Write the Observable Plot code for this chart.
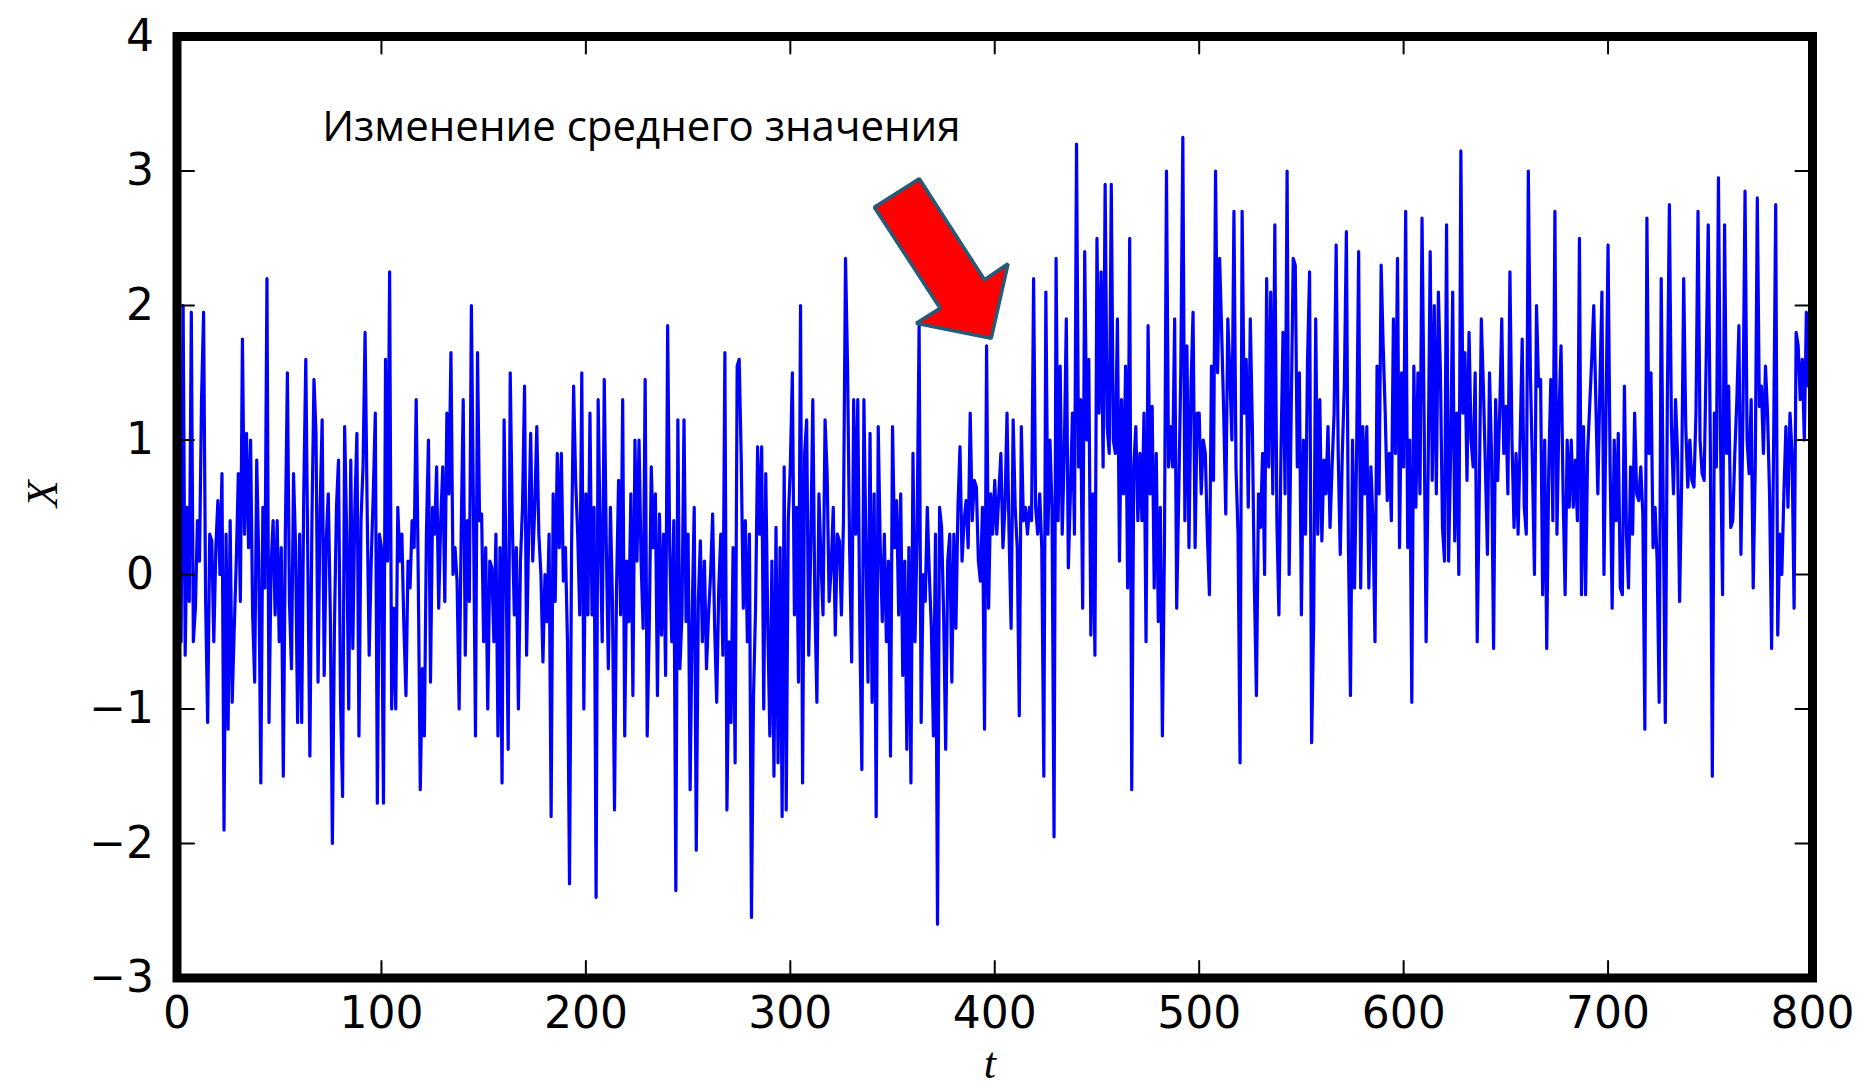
<!DOCTYPE html>
<html>
<head>
<meta charset="utf-8">
<script src="https://cdn.jsdelivr.net/npm/d3@7"></script>
<script src="https://cdn.jsdelivr.net/npm/@observablehq/plot@0.6"></script>
<style>
  html, body { margin: 0; padding: 0; background: #fff; }
  #chart svg { display: block; overflow: visible; }
</style>
</head>
<body>
<div id="chart"></div>
<script>
// Series X(t), t = 0..799
const xValues = [
-0.6,0.2,-0.5,2.0,-0.6,0.5,-0.2,1.95,-0.5,-0.25,
0.4,0.1,1.3,1.95,-0.2,-1.1,0.3,0.25,-0.5,0.2,
0.55,0.0,0.75,-1.9,0.3,-1.15,0.4,-0.95,-0.4,0.1,
0.75,-0.2,1.75,0.3,1.05,0.2,1.0,-0.3,-0.8,0.85,
0.1,-1.55,0.5,-0.1,2.2,-1.1,0.05,0.4,-0.3,0.4,
-0.5,0.2,-1.5,0.3,1.5,-0.2,-0.7,0.75,0.2,-1.1,
0.3,-1.1,0.6,1.6,0.1,-1.35,0.4,1.45,1.05,-0.8,
0.5,1.15,-0.75,0.25,0.6,-0.3,-2.0,-0.4,0.5,0.85,
-0.95,-1.65,1.1,0.3,-1.0,0.85,-0.55,0.5,1.05,-1.2,
0.4,0.8,1.8,0.5,-0.6,0.1,0.6,1.2,-1.7,0.3,
0.2,-1.7,1.6,0.1,2.25,-1.0,-0.25,-1.0,0.5,0.1,
0.3,-0.4,-0.9,0.1,-0.1,0.4,0.2,1.3,0.0,-1.6,
-0.7,-1.2,0.3,1.0,-0.8,0.5,0.3,0.8,-0.25,0.4,
0.8,-0.2,1.2,0.6,1.65,0.0,0.2,-0.05,-1.0,0.3,
1.3,-0.6,0.4,-0.2,2.0,0.5,-1.2,1.65,0.4,0.45,
-0.5,0.2,-1.0,0.1,0.05,-0.5,0.3,-1.2,0.2,-1.55,
1.15,0.0,-1.3,1.5,0.4,-0.3,0.2,-1.0,0.1,0.5,
1.4,-0.6,0.3,1.05,0.1,0.5,1.1,0.3,0.0,-0.65,
0.0,-0.35,0.3,-1.8,0.6,-0.2,0.9,0.2,0.9,-0.05,
0.2,-0.5,-2.3,0.2,1.4,0.7,0.3,-0.3,1.5,-1.0,
0.6,-0.3,1.2,-0.3,0.5,-2.4,1.3,0.3,-0.5,1.45,
0.2,-0.7,0.5,-0.2,-1.75,-0.1,0.7,-0.3,1.3,-1.2,
0.1,-0.35,0.6,-0.9,1.0,0.1,1.0,0.1,-0.4,1.45,
-1.2,-0.4,0.8,0.2,0.6,-0.9,0.45,-0.45,0.3,-0.75,
1.85,0.2,-0.5,0.4,-2.35,1.15,-0.7,-0.3,1.15,-0.35,
0.3,-1.6,-0.3,0.5,-2.05,-0.2,0.25,-0.5,0.1,-0.7,
-0.3,0.0,0.45,-0.4,-0.95,-0.1,0.3,-0.6,1.65,-1.75,
-0.5,-1.1,0.2,-1.4,1.55,1.6,0.85,-0.25,0.4,-0.5,
0.3,-2.55,-0.9,-0.25,0.95,0.3,0.95,-1.0,0.75,-0.4,
-1.2,0.1,-1.5,0.35,-1.4,0.2,-1.8,0.8,-1.75,0.4,
0.8,1.5,-0.3,0.5,-0.8,2.0,-1.55,0.9,1.15,-0.6,
0.2,1.3,-0.2,-0.95,0.6,0.1,-0.3,1.15,0.75,-0.2,
0.05,0.5,-0.45,0.3,0.25,-0.3,0.4,2.35,1.55,0.2,
-0.65,1.3,0.3,1.3,-0.4,-1.45,1.3,0.2,-0.8,1.05,
-0.95,0.6,-1.8,1.1,0.2,-0.35,0.3,-0.5,0.1,-1.35,
1.1,0.2,0.55,-0.3,0.6,-0.75,0.1,-1.3,0.2,-1.55,
0.9,-0.5,0.3,1.85,-1.1,0.0,-0.2,0.5,0.0,-0.4,
-1.2,0.3,-2.6,0.5,0.35,-0.3,-1.3,0.1,0.3,-0.8,
0.3,-0.4,0.5,0.95,0.1,0.4,0.55,0.2,1.2,0.4,
0.7,0.65,0.1,-0.05,0.5,-1.15,1.7,-0.25,0.6,0.3,
0.7,0.3,0.6,0.9,0.2,0.5,1.2,0.3,-0.4,1.15,
0.5,0.2,-1.05,1.1,0.4,0.5,0.3,0.5,0.4,2.2,
0.5,0.3,0.6,0.2,-1.5,2.1,0.3,1.0,0.5,-1.95,
2.35,0.4,1.55,0.3,0.9,1.9,0.05,0.6,1.2,0.3,
3.2,0.8,1.3,-0.25,2.4,1.0,1.6,-0.45,0.6,-0.6,
2.5,1.2,2.25,0.8,2.9,1.1,0.9,2.9,1.0,0.9,
1.9,0.1,1.3,0.6,1.55,-0.1,2.5,-1.6,0.8,1.1,
0.4,0.9,0.4,1.2,-0.5,1.85,0.6,1.25,-0.1,0.9,
-0.35,0.5,-1.2,0.2,3.0,0.8,1.1,0.8,1.9,-0.25,
0.6,1.5,3.25,0.4,1.7,0.2,1.4,1.95,0.2,1.2,
1.2,0.6,1.0,0.9,0.3,-0.15,1.55,0.7,3.0,1.5,
2.35,1.8,1.2,0.45,1.9,1.5,1.0,2.7,0.8,0.3,
-1.4,2.7,1.2,1.6,0.5,1.9,1.1,-0.1,-0.9,0.6,
0.35,0.9,0.0,2.2,0.8,2.1,0.6,2.6,0.4,-0.3,
0.9,1.8,0.6,3.0,0.0,1.2,2.35,2.3,0.8,1.5,
-0.3,1.0,0.3,1.6,2.25,-1.25,-0.35,1.9,0.3,1.3,
0.25,0.85,0.6,1.1,0.35,0.8,1.2,2.45,0.9,0.15,
0.9,1.4,2.55,0.2,-0.9,1.0,-0.1,0.9,2.4,-0.1,
1.1,0.6,1.1,-0.1,0.8,0.4,-0.5,1.55,0.6,2.3,
1.7,1.2,0.55,0.9,0.4,1.9,0.9,2.35,0.2,1.5,
0.8,2.7,0.2,1.0,-0.95,1.55,0.5,1.5,0.6,2.65,
1.2,-0.5,0.8,2.4,0.7,2.0,0.6,2.1,1.5,0.35,
0.1,2.6,0.1,0.9,2.1,0.25,1.2,0.0,3.15,1.2,
1.65,0.7,1.8,1.0,0.8,1.5,-0.5,0.6,1.9,1.4,
0.8,0.15,1.5,0.9,-0.55,1.3,0.7,1.2,1.9,0.9,
1.25,0.6,2.25,1.0,0.35,0.9,0.3,1.0,1.75,0.5,
0.3,3.0,1.5,0.8,0.0,2.0,1.4,1.45,-0.15,1.0,
-0.55,0.8,1.45,0.4,2.7,0.3,1.2,1.7,0.6,-0.15,
1.0,0.5,1.0,0.5,0.85,0.4,2.5,-0.15,1.1,-0.15,
0.9,1.25,1.6,2.0,1.3,0.6,1.4,2.1,0.0,1.2,
2.45,0.8,-0.25,1.0,0.4,1.05,-0.1,-0.15,1.4,0.3,
-0.1,0.8,0.3,1.2,0.6,0.55,0.8,0.45,-1.15,2.65,
0.9,1.5,0.2,0.5,0.1,-0.95,2.2,0.5,-1.1,1.3,
2.75,1.1,0.6,1.3,0.9,-0.2,0.7,2.2,1.1,0.65,
1.0,0.7,0.65,1.2,2.7,1.0,0.75,0.7,1.6,2.6,
1.0,-1.5,1.2,0.8,2.95,1.0,-0.15,2.6,0.9,1.4,
0.35,0.4,0.9,1.3,1.85,0.15,1.2,2.85,1.0,0.75,
1.3,-0.1,0.8,2.8,1.25,1.4,0.9,1.55,1.2,0.6,
-0.55,1.0,2.75,-0.45,0.3,0.0,0.6,1.1,0.5,1.2,
0.9,-0.25,1.8,1.7,1.3,1.6,1.0,1.95,1.4,1.9
];
const tValues = xValues.map((_, i) => i);

const xTicks = [0, 100, 200, 300, 400, 500, 600, 700, 800];
const yTicks = [-3, -2, -1, 0, 1, 2, 3, 4];
const xDomain = [0, 800];
const yDomain = [-3, 4];

const xLabel = "t";
const yLabel = "X";

// Annotation (in data coordinates)
const noteText = ["Изменение среднего значения"];
const noteT = [71];
const noteX = [3.32];

// Block arrow outline (in data coordinates, t and X)
const arrowT = [341.1, 363.1, 395.0, 406.5, 398.3, 361.6, 373.3];
const arrowX = [2.731, 2.942, 2.191, 2.310, 1.757, 1.868, 1.980];

const series = tValues.map((t, i) => ({t, x: xValues[i]}));
const arrow = arrowT.map((t, i) => ({t, x: arrowX[i]}));
const note = noteText.map((s, i) => ({s, t: noteT[i], x: noteX[i]}));

const fmt = d => d < 0 ? "\u2212" + Math.abs(d) : String(d);
const tickShape = { draw(context, l) { context.moveTo(0, 0); context.lineTo(0, -l); } };
const tickOpts = {length: 17, anchor: "start", shape: tickShape, stroke: "black", strokeWidth: 2, fill: "none"};

const chart = Plot.plot({
  width: 1864,
  height: 1088,
  marginLeft: 176.5,
  marginRight: 52,
  marginTop: 36,
  marginBottom: 110.5,
  style: {fontFamily: "'DejaVu Sans', sans-serif", fontSize: "44px", background: "white", color: "black"},
  x: {domain: xDomain},
  y: {domain: yDomain},
  marks: [
    Plot.line(series, {x: "t", y: "x", stroke: "#0000ff", strokeWidth: 3.2, strokeLinejoin: "round"}),
    Plot.frame({stroke: "black", strokeWidth: 9}),
    Plot.vector(xTicks, {x: d => d, y: yDomain[0], rotate: 0, ...tickOpts}),
    Plot.vector(xTicks, {x: d => d, y: yDomain[1], rotate: 180, ...tickOpts}),
    Plot.vector(yTicks, {y: d => d, x: xDomain[0], rotate: 90, ...tickOpts}),
    Plot.vector(yTicks, {y: d => d, x: xDomain[1], rotate: -90, ...tickOpts}),
    Plot.axisX({ticks: xTicks, tickSize: 0, tickPadding: 19, tickFormat: fmt, label: null, fontSize: 44}),
    Plot.axisY({ticks: yTicks, tickSize: 0, tickPadding: 23, tickFormat: fmt, label: null, fontSize: 44}),
    Plot.text([xLabel], {frameAnchor: "bottom", dy: 100, dx: -5, lineAnchor: "bottom", fontFamily: "'Liberation Serif', serif", fontStyle: "italic", fontSize: 44, fill: "black"}),
    Plot.text([yLabel], {frameAnchor: "left", dx: -134, rotate: -90, lineAnchor: "middle", fontFamily: "'Liberation Serif', serif", fontStyle: "italic", fontSize: 44, fill: "black"}),
    Plot.line(arrow, {x: "t", y: "x", curve: "linear-closed", fill: "#ff0000", stroke: "#235b78", strokeWidth: 3.5, strokeLinejoin: "miter"}),
    Plot.text(note, {x: "t", y: "x", text: "s", textAnchor: "start", lineAnchor: "middle", fontFamily: "'Open Sans', sans-serif", fontSize: 42, fill: "black"})
  ]
});
document.getElementById("chart").appendChild(chart);
</script>
</body>
</html>
